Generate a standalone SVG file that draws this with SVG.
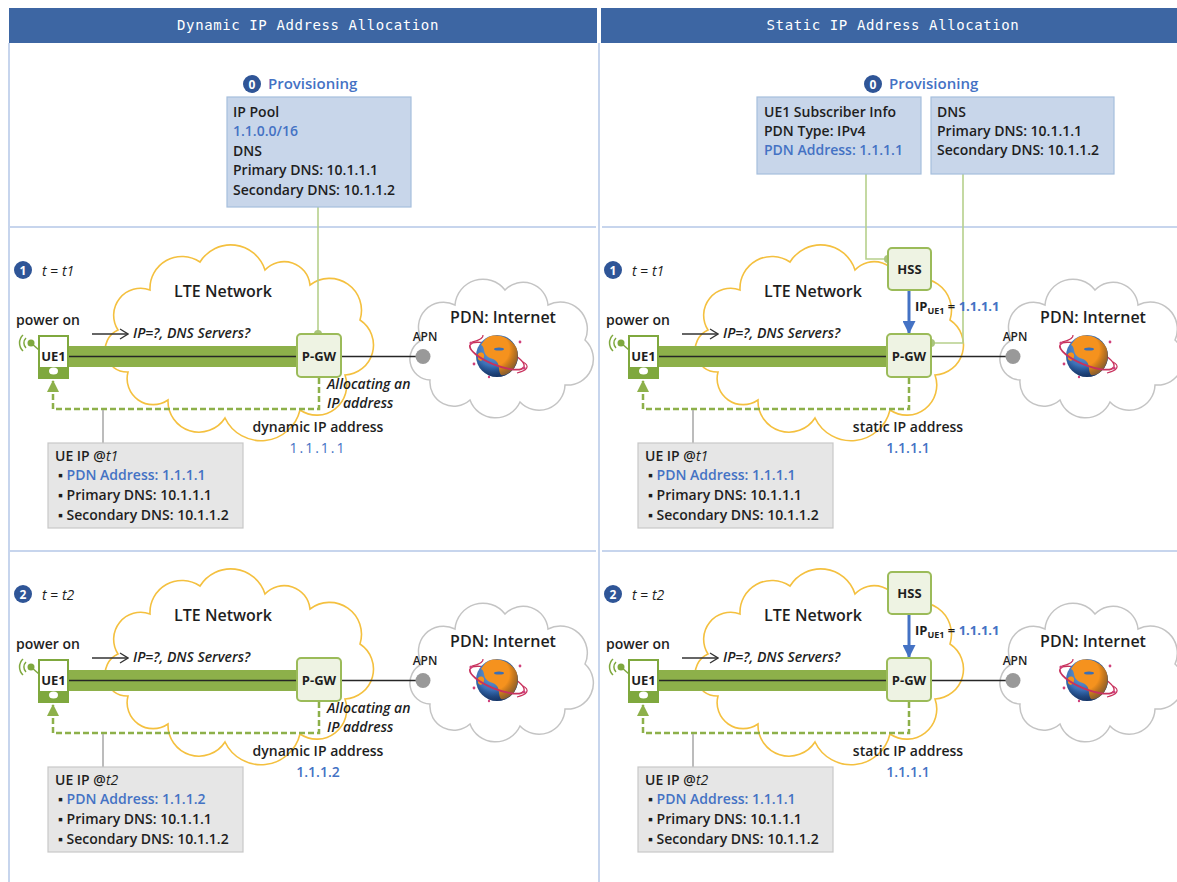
<svg xmlns="http://www.w3.org/2000/svg" width="1177" height="882" viewBox="0 0 1177 882">
<style>
text{font-family:"Open Sans","Liberation Sans",sans-serif;font-size:14px;font-weight:600;fill:#1e1e1e}
.hd{font-family:"DejaVu Sans Mono","Liberation Mono",monospace;font-size:14px;font-weight:400;fill:#fff;letter-spacing:0.6px}
.blue{fill:#4472c4}
.it{font-style:italic}
.reg{font-weight:400}
.apn{font-size:12px}
.node{font-size:13px;font-weight:700}
.big{font-size:16px}
.prov-t{font-size:15px;fill:#4472c4}
.num{font-size:12px;font-weight:700;fill:#fff}
.mid{text-anchor:middle}
.sub{font-size:9px}
.badge{fill:#2f5597}
.sep{stroke:#b4c7e7;stroke-width:1.5}
.prov{fill:#c8d6ea;stroke:#a6bedd;stroke-width:1.2}
.ipbox{fill:#e6e6e6;stroke:#c8c8c8;stroke-width:1.2}
.gnode{fill:#eef3e3;stroke:#9bbb59;stroke-width:2}
.feed{fill:none;stroke:#b6d08c;stroke-width:1.6}
.dot{fill:#a9c47c}
.ret{fill:none;stroke:#8db04a;stroke-width:2.5;stroke-dasharray:6 3}
.bar{fill:#8db04a}
.tun{stroke:#262626;stroke-width:1.3}
.ask{fill:none;stroke:#333;stroke-width:1.3}
.stub{stroke:#a6a6a6;stroke-width:1.5}
.hss{fill:none;stroke:#4472c4;stroke-width:3}
.wave{fill:none;stroke:#7fa83e;stroke-width:1.5}
.ring{fill:none;stroke:#c8325d}
.land{fill:#f5921e}
</style>
<defs>
  <marker id="tri-green" viewBox="0 0 12 12" refX="11" refY="6" markerWidth="12" markerHeight="12" markerUnits="userSpaceOnUse" orient="auto">
    <path d="M0,0 L12,6 L0,12 Z" fill="#8db04a"/>
  </marker>
  <marker id="tri-blue" viewBox="0 0 12 12" refX="11" refY="6" markerWidth="13" markerHeight="13" markerUnits="userSpaceOnUse" orient="auto">
    <path d="M0,0 L12,6 L0,12 Z" fill="#4472c4"/>
  </marker>
  <marker id="chev" viewBox="0 0 10 12" refX="9" refY="6" markerWidth="10" markerHeight="12" markerUnits="userSpaceOnUse" orient="auto">
    <path d="M1,1 L9,6 L1,11" fill="none" stroke="#333" stroke-width="1.3"/>
  </marker>
  <path id="lteCloud" fill="none" stroke="#f4c03f" stroke-width="1.6"
    d="M128,372 A22,22 0 0 1 118,330 A27,27 0 0 1 150,290 A32,32 0 0 1 200,262 A36,36 0 0 1 265,270 A26,26 0 0 1 310,285 A32,32 0 0 1 360,320 A30,30 0 0 1 345,375 A30,30 0 0 1 300,410 A40,40 0 0 1 225,418 A31,31 0 0 1 168,400 A26,26 0 0 1 128,372 Z"/>
  <path id="pdnCloud" fill="none" stroke="#c4c4c4" stroke-width="1.5"
    d="M430,380 A21,21 0 0 1 422,340 A25,25 0 0 1 455,305 A28,28 0 0 1 505,290 A25,25 0 0 1 548,305 A27,27 0 0 1 585,340 A26,26 0 0 1 565,385 A26,26 0 0 1 520,402 A27,27 0 0 1 470,400 A24,24 0 0 1 430,380 Z"/>
  <radialGradient id="ocean" cx="0.4" cy="0.35" r="0.7">
    <stop offset="0" stop-color="#6fa3dc"/>
    <stop offset="0.7" stop-color="#2f64ad"/>
    <stop offset="1" stop-color="#1d3f78"/>
  </radialGradient>
  <radialGradient id="shade" cx="0.4" cy="0.35" r="0.65">
    <stop offset="0.6" stop-color="#000" stop-opacity="0"/>
    <stop offset="1" stop-color="#0b2248" stop-opacity="0.45"/>
  </radialGradient>
  <!-- globe with orbit ring, drawn around its centre -->
  <g id="globe">
    <path d="M29,0 A29,9 0 0 0 -29,0" transform="rotate(22)" class="ring" stroke-width="1.4"/>
    <circle r="21" fill="url(#ocean)"/>
    <path class="land" d="M-6,-20 C4,-22 14,-17 19,-9 C22,-2 21,6 17,12 C13,17 8,20 4,19 C1,15 3,10 0,6 C-3,2 -8,3 -11,-1 C-14,-5 -12,-9 -16,-11 C-13,-16 -10,-19 -6,-20 Z"/>
    <path class="land" d="M-19,-2 C-16,-5 -12,-3 -13,1 C-14,5 -17,6 -19,3Z"/>
    <ellipse cx="2" cy="-7" rx="5" ry="1.6" fill="#3b6fb6"/>
    <circle r="21" fill="url(#shade)"/>
    <path d="M-29,0 A29,9 0 0 0 29,0" transform="rotate(22)" class="ring" stroke-width="1.8"/>
    <path d="M-25,-14 A26,8 0 0 0 -14,-21" class="ring" stroke-width="1.2"/>
    <path d="M20,17 A24,8 0 0 0 26,6" class="ring" stroke-width="1.2"/>
    <circle cx="-26" cy="-13" r="1.6" fill="#d0407a"/>
    <circle cx="27" cy="12" r="1.6" fill="#d0407a"/>
    <circle cx="-23" cy="8" r="1.4" fill="#d0407a"/>
    <circle cx="23" cy="-14" r="1.4" fill="#d0407a"/>
    <circle cx="-8" cy="21" r="1.2" fill="#d0407a"/>
  </g>
</defs>

<rect width="1177" height="882" fill="#fff"/>

<!-- column headers -->
<g id="headers">
  <rect x="9" y="8" width="588" height="35" fill="#3d66a3"/>
  <rect x="601" y="8" width="576" height="35" fill="#3d66a3"/>
  <text x="308" y="30" class="hd mid">Dynamic IP Address Allocation</text>
  <text x="893" y="30" class="hd mid">Static IP Address Allocation</text>
</g>

<!-- column frame and row separators -->
<g id="frame">
  <line x1="9" y1="43" x2="9" y2="882" class="sep"/>
  <line x1="599" y1="43" x2="599" y2="882" class="sep"/>
  <line x1="10" y1="227" x2="596" y2="227" class="sep"/>
  <line x1="10" y1="551" x2="596" y2="551" class="sep"/>
  <line x1="602" y1="227" x2="1177" y2="227" class="sep"/>
  <line x1="602" y1="551" x2="1177" y2="551" class="sep"/>
</g>

<!-- clouds -->
<g id="clouds">
  <use href="#lteCloud"/>
  <use href="#lteCloud" transform="translate(0,324)"/>
  <use href="#lteCloud" transform="translate(590,0)"/>
  <use href="#lteCloud" transform="translate(590,324)"/>
  <use href="#pdnCloud"/>
  <use href="#pdnCloud" transform="translate(0,324)"/>
  <use href="#pdnCloud" transform="translate(590,0)"/>
  <use href="#pdnCloud" transform="translate(590,324)"/>
</g>

<!-- connectors -->
<g id="connectors">
  <!-- provisioning feeds -->
  <path d="M318,207 V334" class="feed"/>
  <path d="M866,174 V259 H888" class="feed"/>
  <path d="M963,174 V343 H931" class="feed"/>
  <circle cx="318" cy="334" r="4" class="dot"/>
  <circle cx="888" cy="259" r="4" class="dot"/>
  <circle cx="931" cy="343" r="4" class="dot"/>

  <g id="dyn1-links">
    <rect x="68" y="346" width="230" height="21" class="bar"/>
    <line x1="68" y1="356.5" x2="297" y2="356.5" class="tun"/>
    <line x1="341" y1="356.5" x2="416" y2="356.5" class="tun"/>
    <path d="M92,334 H128" class="ask" marker-end="url(#chev)"/>
    <path d="M319,378 V409 H53 V381" class="ret" marker-end="url(#tri-green)"/>
    <line x1="103" y1="410" x2="103" y2="443" class="stub"/>
  </g>
  <g id="dyn2-links" transform="translate(0,324)">
    <rect x="68" y="346" width="230" height="21" class="bar"/>
    <line x1="68" y1="356.5" x2="297" y2="356.5" class="tun"/>
    <line x1="341" y1="356.5" x2="416" y2="356.5" class="tun"/>
    <path d="M92,334 H128" class="ask" marker-end="url(#chev)"/>
    <path d="M319,378 V409 H53 V381" class="ret" marker-end="url(#tri-green)"/>
    <line x1="103" y1="410" x2="103" y2="443" class="stub"/>
  </g>
  <g id="sta1-links" transform="translate(590,0)">
    <rect x="68" y="346" width="230" height="21" class="bar"/>
    <line x1="68" y1="356.5" x2="297" y2="356.5" class="tun"/>
    <line x1="341" y1="356.5" x2="416" y2="356.5" class="tun"/>
    <path d="M92,334 H128" class="ask" marker-end="url(#chev)"/>
    <path d="M319,378 V409 H53 V381" class="ret" marker-end="url(#tri-green)"/>
    <line x1="103" y1="410" x2="103" y2="443" class="stub"/>
    <path d="M319,291 V333" class="hss" marker-end="url(#tri-blue)"/>
  </g>
  <g id="sta2-links" transform="translate(590,324)">
    <rect x="68" y="346" width="230" height="21" class="bar"/>
    <line x1="68" y1="356.5" x2="297" y2="356.5" class="tun"/>
    <line x1="341" y1="356.5" x2="416" y2="356.5" class="tun"/>
    <path d="M92,334 H128" class="ask" marker-end="url(#chev)"/>
    <path d="M319,378 V409 H53 V381" class="ret" marker-end="url(#tri-green)"/>
    <line x1="103" y1="410" x2="103" y2="443" class="stub"/>
    <path d="M319,291 V333" class="hss" marker-end="url(#tri-blue)"/>
  </g>
</g>

<!-- ===== Dynamic: provisioning ===== -->
<g id="dyn-provisioning">
  <circle cx="252" cy="84" r="9" class="badge"/>
  <text x="252" y="88.5" class="num mid">0</text>
  <text x="268" y="89" class="prov-t">Provisioning</text>
  <rect x="227" y="97" width="184" height="110" class="prov"/>
  <text x="233" y="117">IP Pool</text>
  <text x="233" y="136" class="blue">1.1.0.0/16</text>
  <text x="233" y="156">DNS</text>
  <text x="233" y="175">Primary DNS: 10.1.1.1</text>
  <text x="233" y="195">Secondary DNS: 10.1.1.2</text>
</g>

<!-- ===== Dynamic: t = t1 ===== -->
<g id="dyn1-step">
  <circle cx="23" cy="270" r="9" class="badge"/>
  <text x="23" y="274.5" class="num mid">1</text>
  <text x="42" y="276" class="reg"><tspan class="it">t</tspan> = <tspan class="it">t1</tspan></text>
</g>
<g id="dyn1-lte"><text x="223" y="297" class="big mid">LTE Network</text></g>
<g id="dyn1-ue1">
  <text x="16" y="325">power on</text>
  <text x="133" y="338" class="it">IP=?, DNS Servers?</text>
  <line x1="31" y1="343" x2="39" y2="350" class="wave"/>
  <circle cx="31" cy="343" r="3.5" fill="#7fa83e"/>
  <path d="M26,338 A7,7 0 0 0 26,348" class="wave"/>
  <path d="M23,335 A11,11 0 0 0 23,351" class="wave"/>
  <rect x="39" y="336" width="29" height="42" fill="#fff" stroke="#7fa83e" stroke-width="2"/>
  <rect x="39" y="367" width="29" height="11" fill="#7fa83e"/>
  <ellipse cx="53.5" cy="371" rx="4.5" ry="3.5" fill="#fff"/>
  <text x="53.5" y="360.5" class="node mid">UE1</text>
</g>
<g id="dyn1-pgw">
  <rect x="297" y="334" width="44" height="43" rx="4" class="gnode"/>
  <text x="319" y="361" class="node mid">P-GW</text>
  <text x="327" y="389" class="it" fill="#404040">Allocating an</text>
  <text x="327" y="408" class="it" fill="#404040">IP address</text>
</g>
<g id="dyn1-apn">
  <circle cx="423" cy="356.5" r="7.5" fill="#999"/>
  <text x="425" y="341" class="apn mid">APN</text>
</g>
<g id="dyn1-pdn">
  <text x="503" y="323" class="big mid">PDN: Internet</text>
  <use href="#globe" transform="translate(497,356)"/>
</g>
<g id="dyn1-result">
  <text x="318" y="432" class="mid">dynamic IP address</text>
  <text x="318" y="453" class="mid blue reg" letter-spacing="2">1.1.1.1</text>
</g>
<g id="dyn1-ueip">
  <rect x="48" y="443" width="195" height="85" class="ipbox"/>
  <text x="55" y="461">UE IP @<tspan class="it reg">t1</tspan></text>
  <text x="58" y="480"><tspan>▪ </tspan><tspan class="blue">PDN Address: 1.1.1.1</tspan></text>
  <text x="58" y="500">▪ Primary DNS: 10.1.1.1</text>
  <text x="58" y="520">▪ Secondary DNS: 10.1.1.2</text>
</g>

<!-- ===== Dynamic: t = t2 ===== -->
<g transform="translate(0,324)">
  <g id="dyn2-step">
    <circle cx="23" cy="270" r="9" class="badge"/>
    <text x="23" y="274.5" class="num mid">2</text>
    <text x="42" y="276" class="reg"><tspan class="it">t</tspan> = <tspan class="it">t2</tspan></text>
  </g>
  <g id="dyn2-lte"><text x="223" y="297" class="big mid">LTE Network</text></g>
  <g id="dyn2-ue1">
    <text x="16" y="325">power on</text>
    <text x="133" y="338" class="it">IP=?, DNS Servers?</text>
    <line x1="31" y1="343" x2="39" y2="350" class="wave"/>
    <circle cx="31" cy="343" r="3.5" fill="#7fa83e"/>
    <path d="M26,338 A7,7 0 0 0 26,348" class="wave"/>
    <path d="M23,335 A11,11 0 0 0 23,351" class="wave"/>
    <rect x="39" y="336" width="29" height="42" fill="#fff" stroke="#7fa83e" stroke-width="2"/>
    <rect x="39" y="367" width="29" height="11" fill="#7fa83e"/>
    <ellipse cx="53.5" cy="371" rx="4.5" ry="3.5" fill="#fff"/>
    <text x="53.5" y="360.5" class="node mid">UE1</text>
  </g>
  <g id="dyn2-pgw">
    <rect x="297" y="334" width="44" height="43" rx="4" class="gnode"/>
    <text x="319" y="361" class="node mid">P-GW</text>
    <text x="327" y="389" class="it" fill="#404040">Allocating an</text>
    <text x="327" y="408" class="it" fill="#404040">IP address</text>
  </g>
  <g id="dyn2-apn">
    <circle cx="423" cy="356.5" r="7.5" fill="#999"/>
    <text x="425" y="341" class="apn mid">APN</text>
  </g>
  <g id="dyn2-pdn">
    <text x="503" y="323" class="big mid">PDN: Internet</text>
    <use href="#globe" transform="translate(497,356)"/>
  </g>
  <g id="dyn2-result">
    <text x="318" y="432" class="mid">dynamic IP address</text>
    <text x="318" y="453" class="mid blue">1.1.1.2</text>
  </g>
  <g id="dyn2-ueip">
    <rect x="48" y="443" width="195" height="85" class="ipbox"/>
    <text x="55" y="461">UE IP @<tspan class="it reg">t2</tspan></text>
    <text x="58" y="480"><tspan>▪ </tspan><tspan class="blue">PDN Address: 1.1.1.2</tspan></text>
    <text x="58" y="500">▪ Primary DNS: 10.1.1.1</text>
    <text x="58" y="520">▪ Secondary DNS: 10.1.1.2</text>
  </g>
</g>

<!-- ===== Static: provisioning ===== -->
<g id="sta-provisioning">
  <circle cx="873" cy="84" r="9" class="badge"/>
  <text x="873" y="88.5" class="num mid">0</text>
  <text x="889" y="89" class="prov-t">Provisioning</text>
  <rect x="757" y="97" width="164" height="77" class="prov"/>
  <text x="764" y="117">UE1 Subscriber Info</text>
  <text x="764" y="136">PDN Type: IPv4</text>
  <text x="764" y="155" class="blue">PDN Address: 1.1.1.1</text>
  <rect x="931" y="97" width="183" height="77" class="prov"/>
  <text x="937" y="117">DNS</text>
  <text x="937" y="136">Primary DNS: 10.1.1.1</text>
  <text x="937" y="155">Secondary DNS: 10.1.1.2</text>
</g>

<!-- ===== Static: t = t1 ===== -->
<g transform="translate(590,0)">
  <g id="sta1-step">
    <circle cx="23" cy="270" r="9" class="badge"/>
    <text x="23" y="274.5" class="num mid">1</text>
    <text x="42" y="276" class="reg"><tspan class="it">t</tspan> = <tspan class="it">t1</tspan></text>
  </g>
  <g id="sta1-lte"><text x="223" y="297" class="big mid">LTE Network</text></g>
  <g id="sta1-ue1">
    <text x="16" y="325">power on</text>
    <text x="133" y="338" class="it">IP=?, DNS Servers?</text>
    <line x1="31" y1="343" x2="39" y2="350" class="wave"/>
    <circle cx="31" cy="343" r="3.5" fill="#7fa83e"/>
    <path d="M26,338 A7,7 0 0 0 26,348" class="wave"/>
    <path d="M23,335 A11,11 0 0 0 23,351" class="wave"/>
    <rect x="39" y="336" width="29" height="42" fill="#fff" stroke="#7fa83e" stroke-width="2"/>
    <rect x="39" y="367" width="29" height="11" fill="#7fa83e"/>
    <ellipse cx="53.5" cy="371" rx="4.5" ry="3.5" fill="#fff"/>
    <text x="53.5" y="360.5" class="node mid">UE1</text>
  </g>
  <g id="sta1-hss">
    <rect x="298" y="248" width="43" height="42" rx="4" class="gnode"/>
    <text x="319.5" y="274" class="node mid">HSS</text>
    <text x="325" y="311" class="node">IP<tspan class="sub" dy="3">UE1</tspan><tspan dy="-3"> = </tspan><tspan class="blue">1.1.1.1</tspan></text>
  </g>
  <g id="sta1-pgw">
    <rect x="297" y="334" width="44" height="43" rx="4" class="gnode"/>
    <text x="319" y="361" class="node mid">P-GW</text>
  </g>
  <g id="sta1-apn">
    <circle cx="423" cy="356.5" r="7.5" fill="#999"/>
    <text x="425" y="341" class="apn mid">APN</text>
  </g>
  <g id="sta1-pdn">
    <text x="503" y="323" class="big mid">PDN: Internet</text>
    <use href="#globe" transform="translate(497,356)"/>
  </g>
  <g id="sta1-result">
    <text x="318" y="432" class="mid">static IP address</text>
    <text x="318" y="453" class="mid blue">1.1.1.1</text>
  </g>
  <g id="sta1-ueip">
    <rect x="48" y="443" width="195" height="85" class="ipbox"/>
    <text x="55" y="461">UE IP @<tspan class="it reg">t1</tspan></text>
    <text x="58" y="480"><tspan>▪ </tspan><tspan class="blue">PDN Address: 1.1.1.1</tspan></text>
    <text x="58" y="500">▪ Primary DNS: 10.1.1.1</text>
    <text x="58" y="520">▪ Secondary DNS: 10.1.1.2</text>
  </g>
</g>

<!-- ===== Static: t = t2 ===== -->
<g transform="translate(590,324)">
  <g id="sta2-step">
    <circle cx="23" cy="270" r="9" class="badge"/>
    <text x="23" y="274.5" class="num mid">2</text>
    <text x="42" y="276" class="reg"><tspan class="it">t</tspan> = <tspan class="it">t2</tspan></text>
  </g>
  <g id="sta2-lte"><text x="223" y="297" class="big mid">LTE Network</text></g>
  <g id="sta2-ue1">
    <text x="16" y="325">power on</text>
    <text x="133" y="338" class="it">IP=?, DNS Servers?</text>
    <line x1="31" y1="343" x2="39" y2="350" class="wave"/>
    <circle cx="31" cy="343" r="3.5" fill="#7fa83e"/>
    <path d="M26,338 A7,7 0 0 0 26,348" class="wave"/>
    <path d="M23,335 A11,11 0 0 0 23,351" class="wave"/>
    <rect x="39" y="336" width="29" height="42" fill="#fff" stroke="#7fa83e" stroke-width="2"/>
    <rect x="39" y="367" width="29" height="11" fill="#7fa83e"/>
    <ellipse cx="53.5" cy="371" rx="4.5" ry="3.5" fill="#fff"/>
    <text x="53.5" y="360.5" class="node mid">UE1</text>
  </g>
  <g id="sta2-hss">
    <rect x="298" y="248" width="43" height="42" rx="4" class="gnode"/>
    <text x="319.5" y="274" class="node mid">HSS</text>
    <text x="325" y="311" class="node">IP<tspan class="sub" dy="3">UE1</tspan><tspan dy="-3"> = </tspan><tspan class="blue">1.1.1.1</tspan></text>
  </g>
  <g id="sta2-pgw">
    <rect x="297" y="334" width="44" height="43" rx="4" class="gnode"/>
    <text x="319" y="361" class="node mid">P-GW</text>
  </g>
  <g id="sta2-apn">
    <circle cx="423" cy="356.5" r="7.5" fill="#999"/>
    <text x="425" y="341" class="apn mid">APN</text>
  </g>
  <g id="sta2-pdn">
    <text x="503" y="323" class="big mid">PDN: Internet</text>
    <use href="#globe" transform="translate(497,356)"/>
  </g>
  <g id="sta2-result">
    <text x="318" y="432" class="mid">static IP address</text>
    <text x="318" y="453" class="mid blue">1.1.1.1</text>
  </g>
  <g id="sta2-ueip">
    <rect x="48" y="443" width="195" height="85" class="ipbox"/>
    <text x="55" y="461">UE IP @<tspan class="it reg">t2</tspan></text>
    <text x="58" y="480"><tspan>▪ </tspan><tspan class="blue">PDN Address: 1.1.1.1</tspan></text>
    <text x="58" y="500">▪ Primary DNS: 10.1.1.1</text>
    <text x="58" y="520">▪ Secondary DNS: 10.1.1.2</text>
  </g>
</g>
</svg>
